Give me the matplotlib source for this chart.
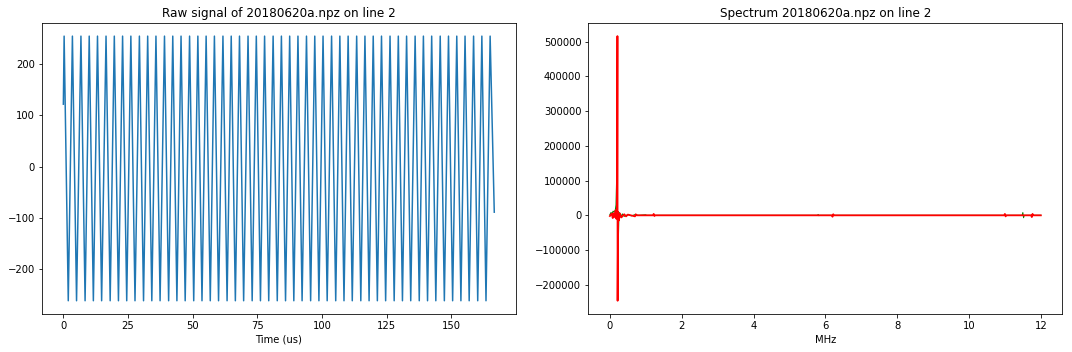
import numpy as np
from matplotlib import pyplot as plt

# raw signal: crest / trough times (us) and levels
peak_times = [0.3, 3.5, 6.8, 10.0, 13.2, 16.5, 19.7, 22.9, 26.1, 29.4,
              32.6, 35.8, 39.1, 42.3, 45.5, 48.8, 52.0, 55.2, 58.4, 61.7,
              64.9, 68.1, 71.4, 74.6, 77.8, 81.1, 84.3, 87.5, 90.7, 94.0,
              97.2, 100.4, 103.7, 106.9, 110.1, 113.4, 116.6, 119.8, 123.0, 126.3,
              129.5, 132.7, 136.0, 139.2, 142.4, 145.7, 148.9, 152.1, 155.3, 158.6,
              161.8, 165.0]
trough_times = [1.9, 5.1, 8.4, 11.6, 14.8, 18.1, 21.3, 24.5, 27.7, 31.0,
                34.2, 37.4, 40.7, 43.9, 47.1, 50.4, 53.6, 56.8, 60.0, 63.3,
                66.5, 69.7, 73.0, 76.2, 79.4, 82.7, 85.9, 89.1, 92.3, 95.6,
                98.8, 102.0, 105.3, 108.5, 111.7, 115.0, 118.2, 121.4, 124.6, 127.9,
                131.1, 134.3, 137.6, 140.8, 144.0, 147.3, 150.5, 153.7, 156.9, 160.2,
                163.4]
peak_level = 255
trough_level = -262
start_point = (0.0, 122)
end_point = (166.6, -89)

# spectrum: points (MHz, value)
green_freq = [0.0, 0.03, 0.06, 0.09, 0.12, 0.15, 0.17, 0.185, 0.2, 0.22,
              0.235, 0.25, 0.27, 0.3, 0.35, 0.4, 0.5, 0.6, 0.7, 0.8,
              1.0, 1.02, 5.78, 5.8, 5.82, 5.84, 6.18, 6.2, 6.22, 6.24,
              11.48, 11.5, 11.52, 11.54, 12.0]
green_vals = [2000, 8000, 5000, 12000, 9000, 15000, 30000, 95000, 20000, -30000,
              -76000, -10000, 8000, -5000, 4000, -3000, 2000, -1500, 2000, 0,
              1500, 0, 0, 2500, -1000, 0, 0, -2000, 1500, 0,
              0, 8000, -7000, 0, 0]
red_freq = [0.0, 0.05, 0.08, 0.1, 0.13, 0.16, 0.18, 0.2, 0.21, 0.215,
            0.23, 0.25, 0.28, 0.32, 0.4, 0.45, 0.5, 0.7, 0.72, 0.74,
            1.2, 1.22, 1.24, 1.26, 6.18, 6.2, 6.22, 6.24, 10.98, 11.0,
            11.02, 11.04, 11.73, 11.75, 11.77, 11.79, 12.0]
red_vals = [-2000, 5000, -8000, 6000, -5000, 15000, -10000, 20000, 516000, -246000,
            10000, -15000, 5000, -6000, 3000, -3000, 2000, -3000, 3000, 0,
            0, 4000, -2000, 0, 0, -4000, 3000, 0, 0, 4000,
            -3000, 0, 0, -5000, 4000, 0, 0]

# interleave crests and troughs into one trace
t = [start_point[0]]
v = [start_point[1]]
for i in range(len(peak_times)):
    t.append(peak_times[i])
    v.append(peak_level)
    if i < len(trough_times):
        t.append(trough_times[i])
        v.append(trough_level)
t.append(end_point[0])
v.append(end_point[1])

fig, (ax1, ax2) = plt.subplots(1, 2, figsize=(1072 / 72, 352 / 72), dpi=72)
fig.subplots_adjust(left=0.039, right=0.991, top=0.935, bottom=0.108, wspace=0.153)

ax1.plot(np.array(t), np.array(v))
ax1.set_title('Raw signal of 20180620a.npz on line 2')
ax1.set_xlabel('Time (us)')

ax2.plot(green_freq, green_vals, color='g', lw=1)
ax2.plot(red_freq, red_vals, color='r', lw=1.8)
ax2.set_title('Spectrum 20180620a.npz on line 2')
ax2.set_xlabel('MHz')

plt.savefig('out.png', dpi=72)
